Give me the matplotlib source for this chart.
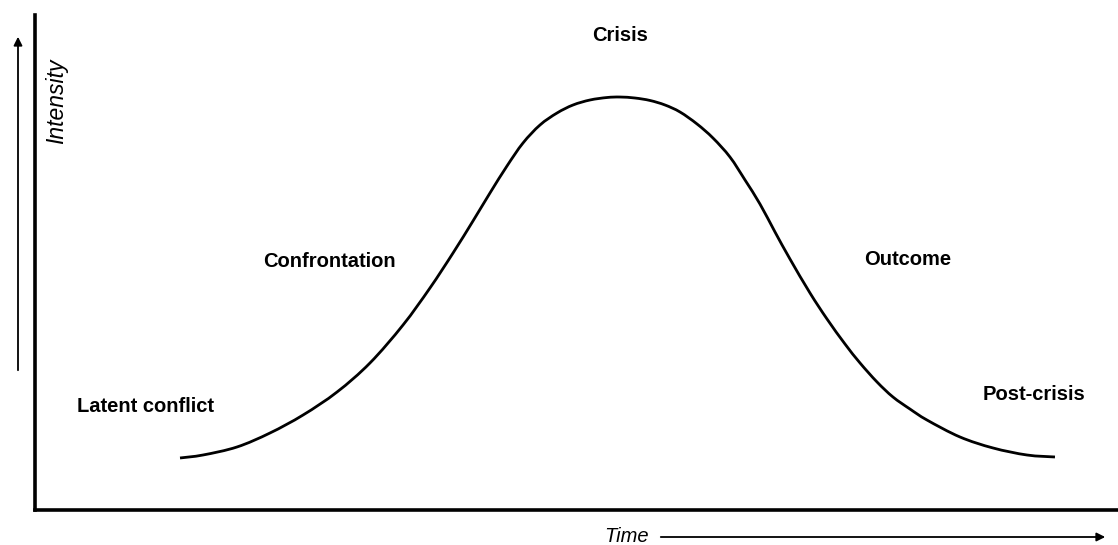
import matplotlib
matplotlib.use('Agg')
import matplotlib.pyplot as plt
from matplotlib.patches import FancyArrowPatch, PathPatch
from matplotlib.path import Path

# ── Curve (time 0-100, intensity 0-100) ──────────────────────────
time = [13.39, 15.51, 18.65, 21.70, 24.75, 27.89, 30.93, 33.98, 36.47, 38.60,
        40.44, 42.01, 43.58, 45.06, 46.63, 48.20, 49.68, 51.25, 52.82, 54.02,
        55.40, 56.79, 58.17, 59.56, 61.13, 62.60, 64.17, 65.56, 66.94, 68.33,
        69.71, 71.56, 73.13, 74.79, 76.18, 77.75, 79.22, 80.79, 82.36, 85.41,
        88.46, 91.60, 94.18]
intensity = [10.51, 11.11, 12.73, 15.56, 19.19, 23.84, 29.70, 37.37, 44.85, 51.92,
             58.38, 64.04, 69.49, 74.14, 77.78, 80.20, 81.82, 82.83, 83.33, 83.43,
             83.23, 82.73, 81.82, 80.40, 77.98, 75.15, 71.31, 66.67, 61.82, 56.16,
             50.71, 43.84, 38.59, 33.54, 29.70, 25.86, 22.83, 20.40, 18.18, 14.75,
             12.53, 11.11, 10.71]

# ── Phase labels ─────────────────────────────────────────────────
phase_names = ["Latent conflict", "Confrontation", "Crisis", "Outcome", "Post-crisis"]
phase_time = [10.2, 27.2, 54.0, 80.6, 92.2]
phase_level = [19.8, 49.1, 94.7, 49.5, 22.2]

FONT = ['Liberation Sans', 'DejaVu Sans']


def smooth_path(xs, ys):
    """Bezier path through the read points (Catmull-Rom tangents), so the line has no kinks."""
    pts = list(zip(xs, ys))
    verts = [pts[0]]
    codes = [Path.MOVETO]
    n = len(pts)
    for i in range(n - 1):
        p0 = pts[max(i - 1, 0)]
        p1 = pts[i]
        p2 = pts[i + 1]
        p3 = pts[min(i + 2, n - 1)]
        c1 = (p1[0] + (p2[0] - p0[0]) / 6, p1[1] + (p2[1] - p0[1]) / 6)
        c2 = (p2[0] - (p3[0] - p1[0]) / 6, p2[1] - (p3[1] - p1[1]) / 6)
        verts += [c1, c2, p2]
        codes += [Path.CURVE4] * 3
    return Path(verts, codes)


fig = plt.figure(figsize=(11.18, 5.45), dpi=100, facecolor='white')
ax = fig.add_axes([35 / 1118, 35 / 545, 1 - 35 / 1118, 495 / 545])

ax.add_patch(PathPatch(smooth_path(time, intensity), facecolor='none',
                       edgecolor='black', linewidth=2.0, capstyle='butt'))

for name, t, lv in zip(phase_names, phase_time, phase_level):
    ax.text(t, lv, name, ha='center', va='baseline', fontsize=14.5,
            fontweight='bold', family=FONT, color='black', clip_on=False)

ax.set_xlim(0, 100)
ax.set_ylim(0, 100)
ax.set_xticks([])
ax.set_yticks([])
for side in ('top', 'right'):
    ax.spines[side].set_visible(False)
for side in ('left', 'bottom'):
    ax.spines[side].set_linewidth(2.6)
    ax.spines[side].set_color('black')

# ── Axis arrows and titles outside the axes ──────────────────────
up = FancyArrowPatch((18 / 1118, (545 - 373) / 545), (18 / 1118, (545 - 34) / 545),
                     transform=fig.transFigure, arrowstyle='-|>,head_length=5,head_width=2.5',
                     color='black', linewidth=1.3, mutation_scale=1)
fig.add_artist(up)
right = FancyArrowPatch((658 / 1118, (545 - 537) / 545), (1108 / 1118, (545 - 537) / 545),
                        transform=fig.transFigure, arrowstyle='-|>,head_length=5,head_width=2.5',
                        color='black', linewidth=1.3, mutation_scale=1)
fig.add_artist(right)

fig.text(57 / 1118, (545 - 101) / 545, 'Intensity', rotation=90, ha='center', va='center',
         fontsize=16.5, fontstyle='italic', family=FONT)
fig.text(627 / 1118, (545 - 536) / 545, 'Time', ha='center', va='center',
         fontsize=14.5, fontstyle='italic', family=FONT)

fig.savefig('out.png', dpi=100, facecolor='white')
